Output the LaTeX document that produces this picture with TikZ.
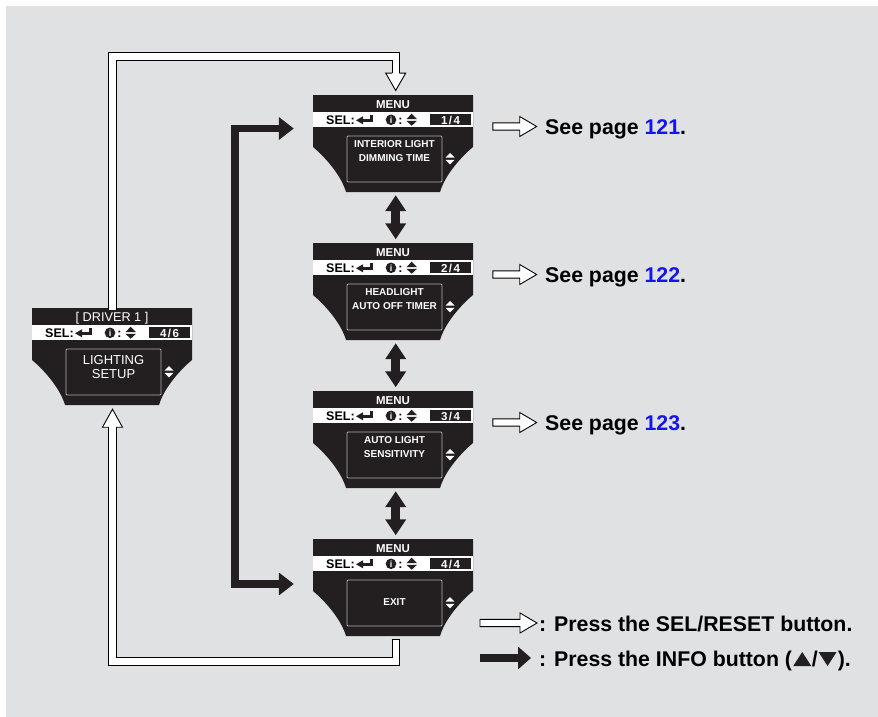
\documentclass[tikz,border=0pt]{standalone}
\usepackage{fontspec}
\setmainfont{Liberation Sans}
\usetikzlibrary{arrows.meta,calc}
\definecolor{bg}{RGB}{224,225,227}
\definecolor{scrblack}{RGB}{35,31,32}
\definecolor{pgblue}{RGB}{20,20,235}
\definecolor{boxedge}{RGB}{175,175,175}
\newcommand\innerfnt{\fontsize{10}{12}\selectfont\bfseries}
\newcommand\drvfnt{\fontsize{13}{14}\selectfont}
\newcommand\legfnt{\fontsize{21.3}{24}\selectfont\bfseries}
\newcommand\bandfnt{\fontsize{12.5}{14}\selectfont\bfseries}
\tikzset{
  scrnode/.style={inner sep=0pt, minimum width=160pt, minimum height=97pt, draw=none},
  lbl/.style={inner sep=0pt, anchor=base},
  hol/.style={fill=white, draw=black, line width=0.9pt, line join=miter},
  holshaft/.style={draw=black, line width=0.9pt, double=white, double distance=6.4pt, line join=miter},
  infoarr/.style={draw=scrblack, line width=7.5pt, line join=miter},
  dblarr/.style={draw=scrblack, line width=9pt, {Triangle[length=16pt,width=20pt]}-{Triangle[length=16pt,width=20pt]}},
}
% #1 name, #2 x0, #3 y0, #4 title, #5 page, #6 line1, #7 line2, #8 inner font, #9 y shift
\newcommand\drawscreen[9]{%
  \node[scrnode] (#1) at ({#2+80},{#3+48.5}) {};
  \fill[scrblack] (#2,#3) -- ({#2+160},#3) -- ({#2+160},{#3+52})
    .. controls ({#2+148},{#3+62}) and ({#2+132},{#3+80}) .. ({#2+127},{#3+97})
    -- ({#2+33},{#3+97})
    .. controls ({#2+28},{#3+80}) and ({#2+12},{#3+62}) .. (#2,{#3+52}) -- cycle;
  \fill[white] (#2,{#3+16.5}) rectangle ({#2+160},{#3+31.5});
  \node[lbl,text=white,font=\fontsize{11.5}{12}\selectfont\bfseries] (#1title) at ({#2+80},{#3+13}) {#4};
  \node[lbl,anchor=base west,font=\bandfnt] (#1sel) at ({#2+13},{#3+29.5}) {SEL:};
  \fill[scrblack] ({#2+43},{#3+25.3}) -- ({#2+50},{#3+21.3}) -- ({#2+50},{#3+29.3}) -- cycle;
  \fill[scrblack] ({#2+49.5},{#3+23.9}) rectangle ({#2+60},{#3+26.7});
  \fill[scrblack] ({#2+57.2},{#3+19.7}) rectangle ({#2+60},{#3+26.7});
  \fill[scrblack] ({#2+78},{#3+24.8}) circle[radius=5.3];
  \node[lbl,text=white,font=\fontsize{9}{9}\selectfont\bfseries] (#1info) at ({#2+78},{#3+28.3}) {i};
  \node[lbl,font=\bandfnt] (#1col) at ({#2+87.5},{#3+29.5}) {:};
  \fill[scrblack] ({#2+93.4},{#3+24.2}) -- ({#2+104},{#3+24.2}) -- ({#2+98.7},{#3+18.7}) -- cycle;
  \fill[scrblack] ({#2+93.4},{#3+25.8}) -- ({#2+104},{#3+25.8}) -- ({#2+98.7},{#3+30.7}) -- cycle;
  \fill[scrblack] ({#2+116.7},{#3+18.7}) rectangle ({#2+158.3},{#3+30.3});
  \node[lbl,text=white,font=\fontsize{11.5}{12}\selectfont\bfseries] (#1page) at ({#2+137.5},{#3+29}) {#5};
  \draw[boxedge, line width=0.8pt, rounded corners=1pt] ({#2+34},{#3+41}) rectangle ({#2+129},{#3+87});
  \node[lbl,text=white,font=#8] (#1la) at ({#2+81.5},{#3+52.2+#9}) {#6};
  \node[lbl,text=white,font=#8] (#1lb) at ({#2+81.5},{#3+66+#9}) {#7};
  \fill[white] ({#2+132.5},{#3+62.5}) -- ({#2+141.5},{#3+62.5}) -- ({#2+137},{#3+58}) -- cycle;
  \fill[white] ({#2+132.5},{#3+64.8}) -- ({#2+141.5},{#3+64.8}) -- ({#2+137},{#3+69.3}) -- cycle;
}
\newcommand\holarrow[2]{%
  \filldraw[hol] ($(#1)+(0,-3.65)$) -- ($(#2)+(-17,-3.65)$) -- ($(#2)+(-17,-10)$) -- (#2)
    -- ($(#2)+(-17,10)$) -- ($(#2)+(-17,3.65)$) -- ($(#1)+(0,3.65)$) -- cycle;}
\newcommand\pg[1]{#1\kern1.5pt/\kern1.5pt}
\begin{document}
\begin{tikzpicture}[x=1pt,y=-1pt]
\useasboundingbox (0,0) rectangle (878,717);
\fill[white] (0,0) rectangle (878,717);
\fill[bg] (6,6) rectangle (878,717);

% screens
\drawscreen{s0}{32}{308}{\mdseries\fontsize{12.7}{13}\selectfont[ DRIVER 1 ]}{\pg{4}6}{LIGHTING}{SETUP}{\drvfnt}{4}
\drawscreen{s1}{313}{95}{MENU}{\pg{1}4}{INTERIOR LIGHT}{DIMMING TIME}{\innerfnt}{0}
\drawscreen{s2}{313}{243}{MENU}{\pg{2}4}{HEADLIGHT}{AUTO OFF TIMER}{\innerfnt}{0}
\drawscreen{s3}{313}{391}{MENU}{\pg{3}4}{AUTO LIGHT}{SENSITIVITY}{\innerfnt}{0}
\drawscreen{s4}{313}{539}{MENU}{\pg{4}4}{}{EXIT}{\innerfnt}{0}

% top hollow loop (SEL/RESET) from s0 to s1
\coordinate (tlA) at (112.5,56.5);
\coordinate (tlB) at (395.7,56.5);
\draw[holshaft] ($(s0.north -| tlA)+(0,2)$) -- (tlA) -- (tlB) -- ($(s1.north -| tlB)+(0,-21.7)$);
\filldraw[hol] ($(s1.north -| tlB)+(-3.65,-21.7)$) -- ++(-6.35,0) -- ($(s1.north -| tlB)+(0,-4.3)$)
  -- ($(s1.north -| tlB)+(10,-21.7)$) -- ++(-6.35,0);

% bottom hollow loop from s4 to s0
\coordinate (blA) at (395.7,661.5);
\coordinate (blB) at (112.5,661.5);
\draw[holshaft] ($(s4.south -| blA)+(0,3.5)$) -- (blA) -- (blB) -- ($(s0.south -| blB)+(0,22)$);
\draw[black,line width=0.9pt] ($(s4.south -| blA)+(-4.1,3.5)$) -- ($(s4.south -| blA)+(4.1,3.5)$);
\filldraw[hol] ($(s0.south -| blB)+(-3.65,22)$) -- ++(-6.35,0) -- ($(s0.south -| blB)+(0,4)$)
  -- ($(s0.south -| blB)+(10,22)$) -- ++(-6.35,0);

% INFO connector s1 <-> s4
\coordinate (iT) at (235,128.5);
\coordinate (iB) at (235,584);
\draw[infoarr, {Triangle[length=15pt,width=22pt]}-{Triangle[length=15pt,width=22pt]}]
  ($(s1.west |- iT)+(-19,0)$) -- (iT) -- (iB) -- ($(s4.west |- iB)+(-19,0)$);

% double arrows between menu screens
\draw[dblarr] ($(s1.south)+(2.7,3)$) -- ($(s2.north)+(2.7,-3.5)$);
\draw[dblarr] ($(s2.south)+(2.7,3)$) -- ($(s3.north)+(2.7,-3.5)$);
\draw[dblarr] ($(s3.south)+(2.7,3)$) -- ($(s4.north)+(2.7,-3.5)$);

% see page labels
\node[lbl,anchor=base west,font=\legfnt] (p1) at (545,134) {See page \textcolor{pgblue}{121}.};
\node[lbl,anchor=base west,font=\legfnt] (p2) at (545,282) {See page \textcolor{pgblue}{122}.};
\node[lbl,anchor=base west,font=\legfnt] (p3) at (545,430) {See page \textcolor{pgblue}{123}.};
\coordinate (p1a) at ($(s1.east)+(19.7,-17)$);
\coordinate (p2a) at ($(s2.east)+(19.7,-17)$);
\coordinate (p3a) at ($(s3.east)+(19.7,-17)$);
\coordinate (p1b) at ($(p1.west |- p1a)+(-8.3,0)$);
\coordinate (p2b) at ($(p2.west |- p2a)+(-8.3,0)$);
\coordinate (p3b) at ($(p3.west |- p3a)+(-8.3,0)$);
\holarrow{p1a}{p1b}
\holarrow{p2a}{p2b}
\holarrow{p3a}{p3b}

% legend
\node[lbl,anchor=base west,font=\legfnt] (leg1) at (539,631) {: Press the SEL/RESET button.};
\node[lbl,anchor=base west,font=\legfnt] (leg2) at (539,666) {: Press the INFO button (};
\fill[scrblack] ($(leg2.base east)+(1,0)$) -- ++(18,0) -- ++(-9,-14) -- cycle;
\node[lbl,anchor=base west,font=\legfnt] (leg2s) at ($(leg2.base east)+(19.5,0)$) {/};
\fill[scrblack] ($(leg2s.base east)+(0.5,-14)$) -- ++(18,0) -- ++(-9,14) -- cycle;
\node[lbl,anchor=base west,font=\legfnt] (leg2e) at ($(leg2s.base east)+(19.5,0)$) {).};
\coordinate (lg1) at (480,623);
\coordinate (lg1t) at ($(leg1.west |- lg1)+(-2,0)$);
\holarrow{lg1}{lg1t}
\coordinate (lg2) at (480,658);
\coordinate (lg2t) at ($(leg2.west |- lg2)+(-8,0)$);
\draw[infoarr, -{Triangle[length=13pt,width=22pt]}] (lg2) -- (lg2t);
\end{tikzpicture}
\end{document}
